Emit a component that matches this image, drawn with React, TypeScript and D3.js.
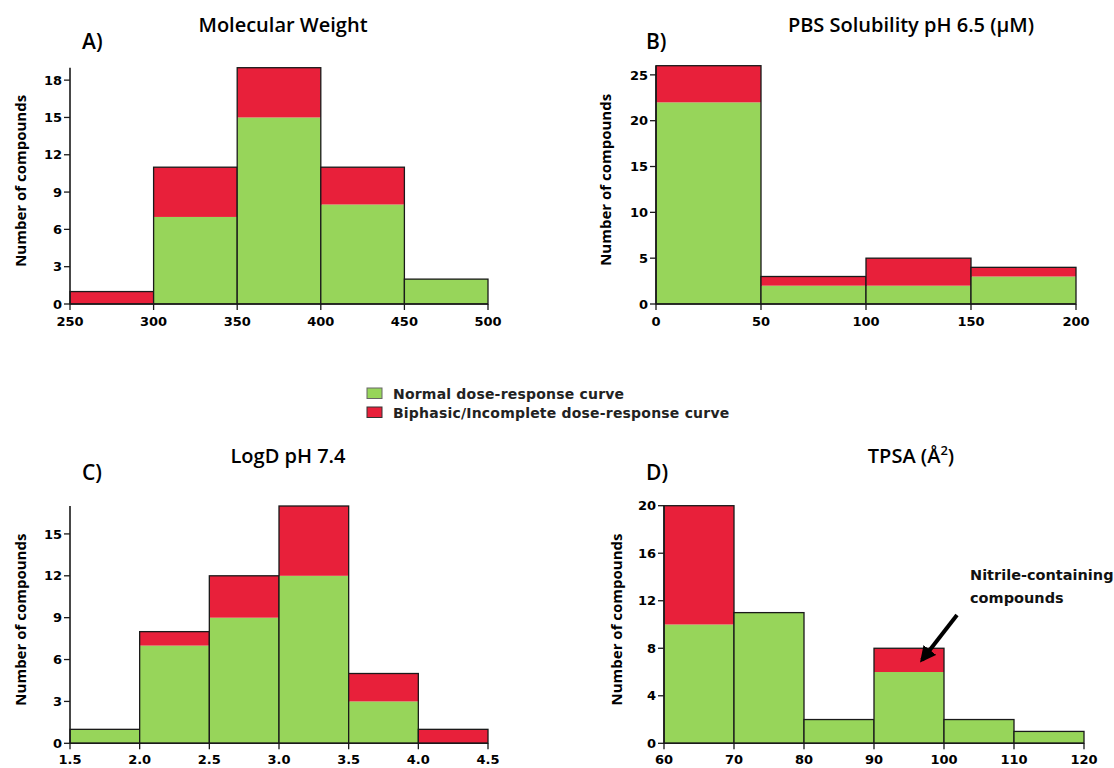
import React from "react";
import * as d3 from "d3";

// bin edges and counts per panel (green = normal, red = biphasic/incomplete)
const mwEdges = [250, 300, 350, 400, 450, 500];
const mwNormal = [0, 7, 15, 8, 2];
const mwBiphasic = [1, 4, 4, 3, 0];

const solEdges = [0, 50, 100, 150, 200];
const solNormal = [22, 2, 2, 3];
const solBiphasic = [4, 1, 3, 1];

const logdEdges = [1.5, 2.0, 2.5, 3.0, 3.5, 4.0, 4.5];
const logdNormal = [1, 7, 9, 12, 3, 0];
const logdBiphasic = [0, 1, 3, 5, 2, 1];

const tpsaEdges = [60, 70, 80, 90, 100, 110, 120];
const tpsaNormal = [10, 11, 2, 6, 2, 1];
const tpsaBiphasic = [10, 0, 0, 2, 0, 0];

const mwYTicks = [0, 3, 6, 9, 12, 15, 18];
const solYTicks = [0, 5, 10, 15, 20, 25];
const logdYTicks = [0, 3, 6, 9, 12, 15];
const tpsaYTicks = [0, 4, 8, 12, 16, 20];

const legendLabels = ["Normal dose-response curve", "Biphasic/Incomplete dose-response curve"];

const GREEN = "#97d55a";
const RED = "#e8203a";
const FONT = "'Open Sans', 'DejaVu Sans', sans-serif";
const WIDE = "'DejaVu Sans', sans-serif";

type PanelProps = {
  label: string;
  title: React.ReactNode;
  edges: number[];
  normal: number[];
  biphasic: number[];
  yTicks: number[];
  yMax: number;
  xFmt: (v: number) => string;
  left: number;
  right: number;
  bottom: number;
  top: number;
  titleX: number;
  titleY: number;
  labelX: number;
  ylabX: number;
  tickDy: number;
  children?: React.ReactNode;
};

function Panel(p: PanelProps) {
  const x = d3.scaleLinear().domain([p.edges[0], p.edges[p.edges.length - 1]]).range([p.left, p.right]);
  const y = d3.scaleLinear().domain([0, p.yMax]).range([p.bottom, p.top]);
  const bins = p.normal.map((n, i) => ({ x0: p.edges[i], x1: p.edges[i + 1], n, b: p.biphasic[i] }));
  const x0 = x.range()[0];
  return (
    <g>
      <text x={p.titleX} y={p.titleY} textAnchor="middle" fontSize={20} fontWeight={600} fontFamily={FONT}>
        {p.title}
      </text>
      <text x={p.labelX} y={p.titleY + 17} fontSize={21} fontWeight={600} fontFamily={FONT}>
        {p.label}
      </text>
      {bins.map((d, i) => (
        <g key={i}>
          {d.n > 0 && (
            <rect x={x(d.x0)} width={x(d.x1) - x(d.x0)} y={y(d.n)} height={y(0) - y(d.n)} fill={GREEN} />
          )}
          {d.b > 0 && (
            <rect x={x(d.x0)} width={x(d.x1) - x(d.x0)} y={y(d.n + d.b)} height={y(d.n) - y(d.n + d.b)} fill={RED} />
          )}
          <rect
            x={x(d.x0)}
            width={x(d.x1) - x(d.x0)}
            y={y(d.n + d.b)}
            height={y(0) - y(d.n + d.b)}
            fill="none"
            stroke="#1a1a1a"
            strokeWidth={1.3}
          />
        </g>
      ))}
      {/* axes */}
      <line x1={x0} x2={x0} y1={y(0)} y2={y(p.yMax)} stroke="#1a1a1a" strokeWidth={1.6} />
      <line x1={x0} x2={x.range()[1]} y1={y(0)} y2={y(0)} stroke="#1a1a1a" strokeWidth={1.6} />
      {p.yTicks.map((t) => (
        <g key={"y" + t}>
          <line x1={x0 - 6} x2={x0} y1={y(t)} y2={y(t)} stroke="#1a1a1a" strokeWidth={1.3} />
          <text x={x0 - 8} y={y(t)} dy="0.36em" textAnchor="end" fontSize={13} fontWeight={700} fontFamily={WIDE}>
            {t}
          </text>
        </g>
      ))}
      {p.edges.map((t) => (
        <g key={"x" + t}>
          <line x1={x(t)} x2={x(t)} y1={y(0)} y2={y(0) + 6} stroke="#1a1a1a" strokeWidth={1.3} />
          <text x={x(t)} y={y(0) + p.tickDy} textAnchor="middle" fontSize={13} fontWeight={700} fontFamily={WIDE}>
            {p.xFmt(t)}
          </text>
        </g>
      ))}
      <text
        transform={`translate(${p.ylabX},${(p.top + p.bottom) / 2 - 5}) rotate(-90)`}
        textAnchor="middle"
        dy="0.35em"
        fontSize={15}
        fontWeight={700}
        fontFamily={FONT}
      >
        Number of compounds
      </text>
      {p.children}
    </g>
  );
}

export default function App() {
  const int = d3.format("d");
  const one = d3.format(".1f");
  return (
    <svg width={1114} height={768} style={{ position: "absolute", left: 0, top: 0, background: "#fff" }}>
      <rect width={1114} height={768} fill="#fff" />
      <Panel
        label="A)"
        title="Molecular Weight"
        edges={mwEdges}
        normal={mwNormal}
        biphasic={mwBiphasic}
        yTicks={mwYTicks}
        yMax={19}
        xFmt={int}
        left={70}
        right={488}
        bottom={304}
        top={67.7}
        titleX={283}
        titleY={32}
        labelX={82}
        ylabX={21}
        tickDy={22}
      />
      <Panel
        label="B)"
        title="PBS Solubility pH 6.5 (µM)"
        edges={solEdges}
        normal={solNormal}
        biphasic={solBiphasic}
        yTicks={solYTicks}
        yMax={26}
        xFmt={int}
        left={656}
        right={1076}
        bottom={304}
        top={65.7}
        titleX={911}
        titleY={32}
        labelX={646}
        ylabX={606}
        tickDy={22}
      />
      <Panel
        label="C)"
        title="LogD pH 7.4"
        edges={logdEdges}
        normal={logdNormal}
        biphasic={logdBiphasic}
        yTicks={logdYTicks}
        yMax={17}
        xFmt={one}
        left={70}
        right={488}
        bottom={743.3}
        top={506}
        titleX={288}
        titleY={463}
        labelX={82}
        ylabX={21}
        tickDy={20.5}
      />
      <Panel
        label="D)"
        title={
          <>
            TPSA (Å<tspan dy={-8} fontSize={13}>2</tspan>
            <tspan dy={8}>)</tspan>
          </>
        }
        edges={tpsaEdges}
        normal={tpsaNormal}
        biphasic={tpsaBiphasic}
        yTicks={tpsaYTicks}
        yMax={20}
        xFmt={int}
        left={664}
        right={1084}
        bottom={743.3}
        top={505.7}
        titleX={911}
        titleY={463}
        labelX={646}
        ylabX={617}
        tickDy={20.5}
      >
        <g fontSize={14.5} fontWeight={700} fontFamily={WIDE} fill="#111">
          <text x={970} y={580}>Nitrile-containing</text>
          <text x={970} y={603}>compounds</text>
        </g>
        <defs>
          <marker id="arrowhead" viewBox="0 0 10 10" refX={8} refY={5} markerWidth={4} markerHeight={4} orient="auto">
            <path d="M0,0 L10,5 L0,10 z" fill="#000" />
          </marker>
        </defs>
        <line x1={957} y1={615} x2={922} y2={660} stroke="#000" strokeWidth={4} markerEnd="url(#arrowhead)" />
      </Panel>
      {/* legend */}
      <g fontFamily={WIDE} fontSize={14} fontWeight={700} letterSpacing={0.2} fill="#222">
        {legendLabels.map((l, i) => (
          <g key={l}>
            <rect
              x={367}
              y={388 + i * 19}
              width={15}
              height={10.5}
              fill={i === 0 ? GREEN : RED}
              stroke={i === 0 ? "#666" : "#333"}
              strokeWidth={1}
            />
            <text x={393} y={398.5 + i * 19.5}>{l}</text>
          </g>
        ))}
      </g>
    </svg>
  );
}
